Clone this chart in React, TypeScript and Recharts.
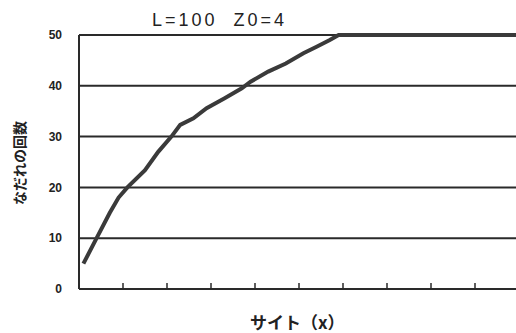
import React from 'react';
import { LineChart, Line, XAxis, YAxis, CartesianGrid } from 'recharts';

const sites = [1, 4, 7, 9, 11, 15, 18, 21, 23, 26, 29, 33, 37, 39, 43, 47, 51, 54, 57, 59, 70, 80, 90, 100];
const avalanches = [5, 10, 15, 18, 20, 23.4, 27, 30, 32.3, 33.6, 35.6, 37.5, 39.5, 40.8, 42.8, 44.4, 46.4, 47.7, 49, 50, 50, 50, 50, 50];
const xTicks = [0, 10, 20, 30, 40, 50, 60, 70, 80, 90, 100];
const yTicks = [0, 10, 20, 30, 40, 50];
const title = 'L=100\u00A0\u00A0Z0=4';
const xLabel = 'サイト（x）';
const yLabel = 'なだれの回数';

const data = sites.map((s, i) => ({ site: s, count: avalanches[i] }));

export default function App() {
  return (
    <div style={{ position: 'absolute', left: 0, top: 0, width: 516, height: 333, overflow: 'hidden', background: '#fff' }}>
      <LineChart width={530} height={333} data={data} margin={{ top: 35, right: 11, left: 0, bottom: 44 }}>
        <CartesianGrid vertical={false} stroke="#2a2a2a" strokeWidth={2} />
        <XAxis
          dataKey="site"
          type="number"
          domain={[0, 100]}
          ticks={xTicks}
          mirror
          height={10}
          tickSize={6}
          tickFormatter={() => ''}
          axisLine={{ stroke: '#2a2a2a', strokeWidth: 2 }}
          tickLine={{ stroke: '#2a2a2a', strokeWidth: 1.5 }}
        />
        <YAxis
          type="number"
          domain={[0, 50]}
          ticks={yTicks}
          width={79}
          tickLine={false}
          tickMargin={11}
          axisLine={{ stroke: '#2a2a2a', strokeWidth: 2 }}
          tick={{ fill: '#222', fontSize: 12, fontWeight: 'bold', fontFamily: 'Liberation Sans, Arial, sans-serif' }}
        />
        <Line
          type="linear"
          dataKey="count"
          stroke="#3a3a3a"
          strokeWidth={4}
          dot={false}
          isAnimationActive={false}
        />
      </LineChart>
      <div style={{ position: 'absolute', left: 152, top: 11, lineHeight: 1, fontFamily: 'Liberation Sans, Arial, sans-serif', fontSize: 18, letterSpacing: 3, color: '#222', whiteSpace: 'nowrap' }}>
        {title}
      </div>
      <div style={{ position: 'absolute', left: 250, top: 313, lineHeight: 1, fontFamily: 'Noto Sans CJK JP, sans-serif', fontSize: 17, fontWeight: 'bold', color: '#222', whiteSpace: 'nowrap' }}>
        {xLabel}
      </div>
      <div style={{ position: 'absolute', left: 19, top: 163, width: 0, height: 0 }}>
        <div style={{ position: 'absolute', lineHeight: 1, transform: 'translate(-50%, -50%) rotate(-90deg)', fontFamily: 'Noto Sans CJK JP, sans-serif', fontSize: 14, fontWeight: 'bold', color: '#222', whiteSpace: 'nowrap' }}>
          {yLabel}
        </div>
      </div>
    </div>
  );
}
